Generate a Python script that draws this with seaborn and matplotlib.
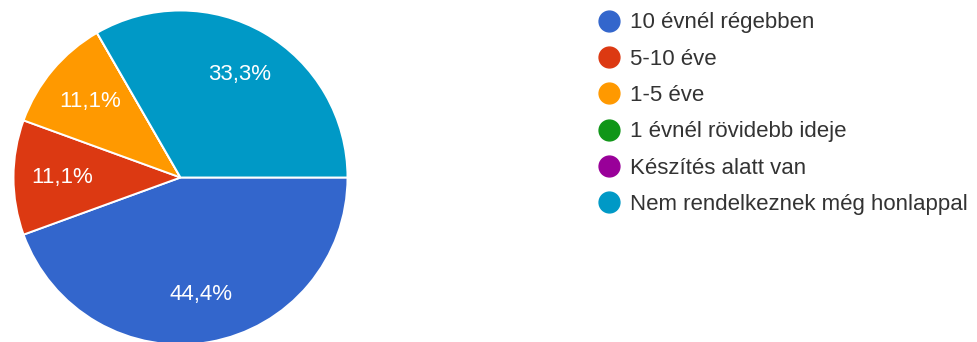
import matplotlib
matplotlib.use("Agg")
import matplotlib.pyplot as plt
import seaborn as sns
from matplotlib.lines import Line2D

labels = ["10 évnél régebben", "5-10 éve", "1-5 éve", "1 évnél rövidebb ideje",
          "Készítés alatt van", "Nem rendelkeznek még honlappal"]
counts = [4, 1, 1, 0, 0, 3]
colors = ["#3366cc", "#dc3912", "#ff9900", "#109618", "#990099", "#0099c6"]

sns.set_theme(style="white")
plt.rcParams['font.family'] = ['Liberation Sans', 'DejaVu Sans']

fig = plt.figure(figsize=(9.77, 3.42), dpi=100)
# pie axes: centre ~ (180.5,177.5) px, radius ~167 px
ax = fig.add_axes([13.5/977, -2.5/342, 334/977, 334/342])


def pct(p):
    if p < 0.05:
        return ""
    return f"{p:.1f}%".replace(".", ",")


wedges, texts, autotexts = ax.pie(
    counts, colors=colors, startangle=0, counterclock=False,
    autopct=pct, pctdistance=0.71, radius=1,
    wedgeprops=dict(edgecolor="white", linewidth=1.4),
    textprops=dict(color="white", fontsize=16))
ax.set_xlim(-1, 1)
ax.set_ylim(-1, 1)
ax.set_aspect("equal")
ax.axis("off")

handles = [Line2D([0], [0], marker="o", linestyle="", markersize=15,
                  markerfacecolor=c, markeredgecolor=c) for c in colors]
fig.legend(handles, labels, loc="upper left", bbox_to_anchor=(589/977, 1 - 3.5/342),
           frameon=False, fontsize=16, labelspacing=0.69, handlelength=1.0,
           handletextpad=0.45, borderaxespad=0, labelcolor="#333333")

fig.savefig("out.png", dpi=100, facecolor="white")
